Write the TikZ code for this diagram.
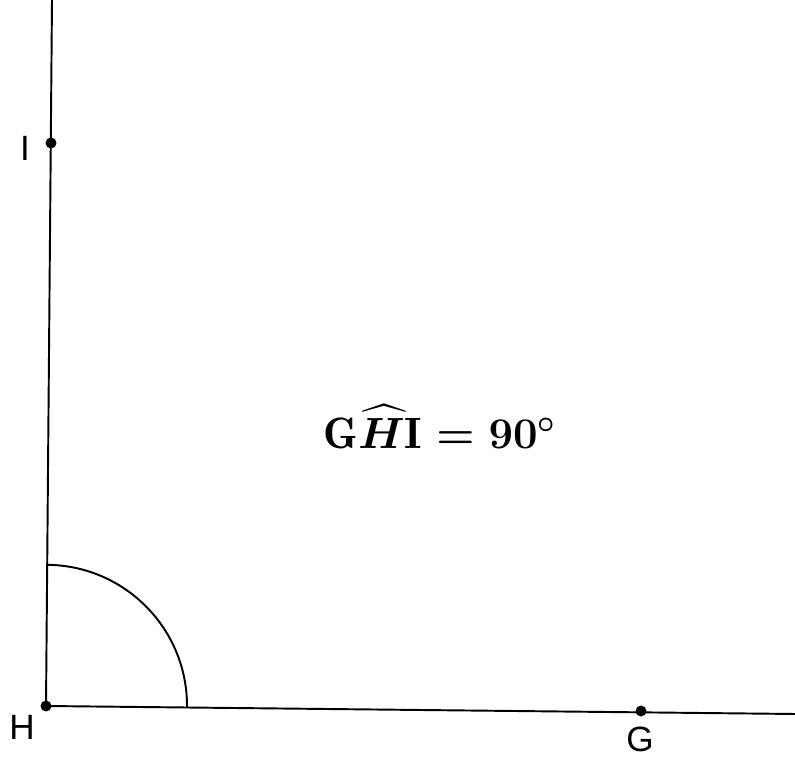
\documentclass[tikz,border=0pt]{standalone}
\usepackage{amsmath}
\usepackage{fontspec}
\newfontfamily\labelfont{Liberation Sans}
\usetikzlibrary{positioning}

\begin{document}
\begin{tikzpicture}[x=0.02cm,y=0.02cm,
    side/.style={line width=1.1pt,black},
    pt/.style={circle,fill=black,inner sep=0pt,minimum size=0.22cm},
    lbl/.style={font=\labelfont\fontsize{20}{22}\selectfont},
    eqtext/.style={font=\fontsize{25}{28}\selectfont\bfseries\boldmath}]
    \useasboundingbox (0,0) rectangle (795,757);
    \node[pt] (H) at (46,51) {};
    \node[pt] (I) at (51,614) {};
    \node[pt] (G) at (641,46) {};
    \coordinate (topend) at (52,757);
    \coordinate (rightend) at (795,43);
    \draw[side] (H.center) -- (topend);
    \draw[side] (H.center) -- (rightend);
    % angle mark
    \draw[side] (187,50) arc[start angle=-0.48,end angle=89.5,radius=141];
    \node[lbl] (Hl) at (22,30) {H};
    \node[lbl] (Gl) at (640,18) {G};
    \node[lbl] (Il) at (25,609) {I};
    \node[eqtext] (ang) at (440,330) {$\mathrm{G}\widehat{H}\mathrm{I}=90^{\circ}$};
\end{tikzpicture}
\end{document}
